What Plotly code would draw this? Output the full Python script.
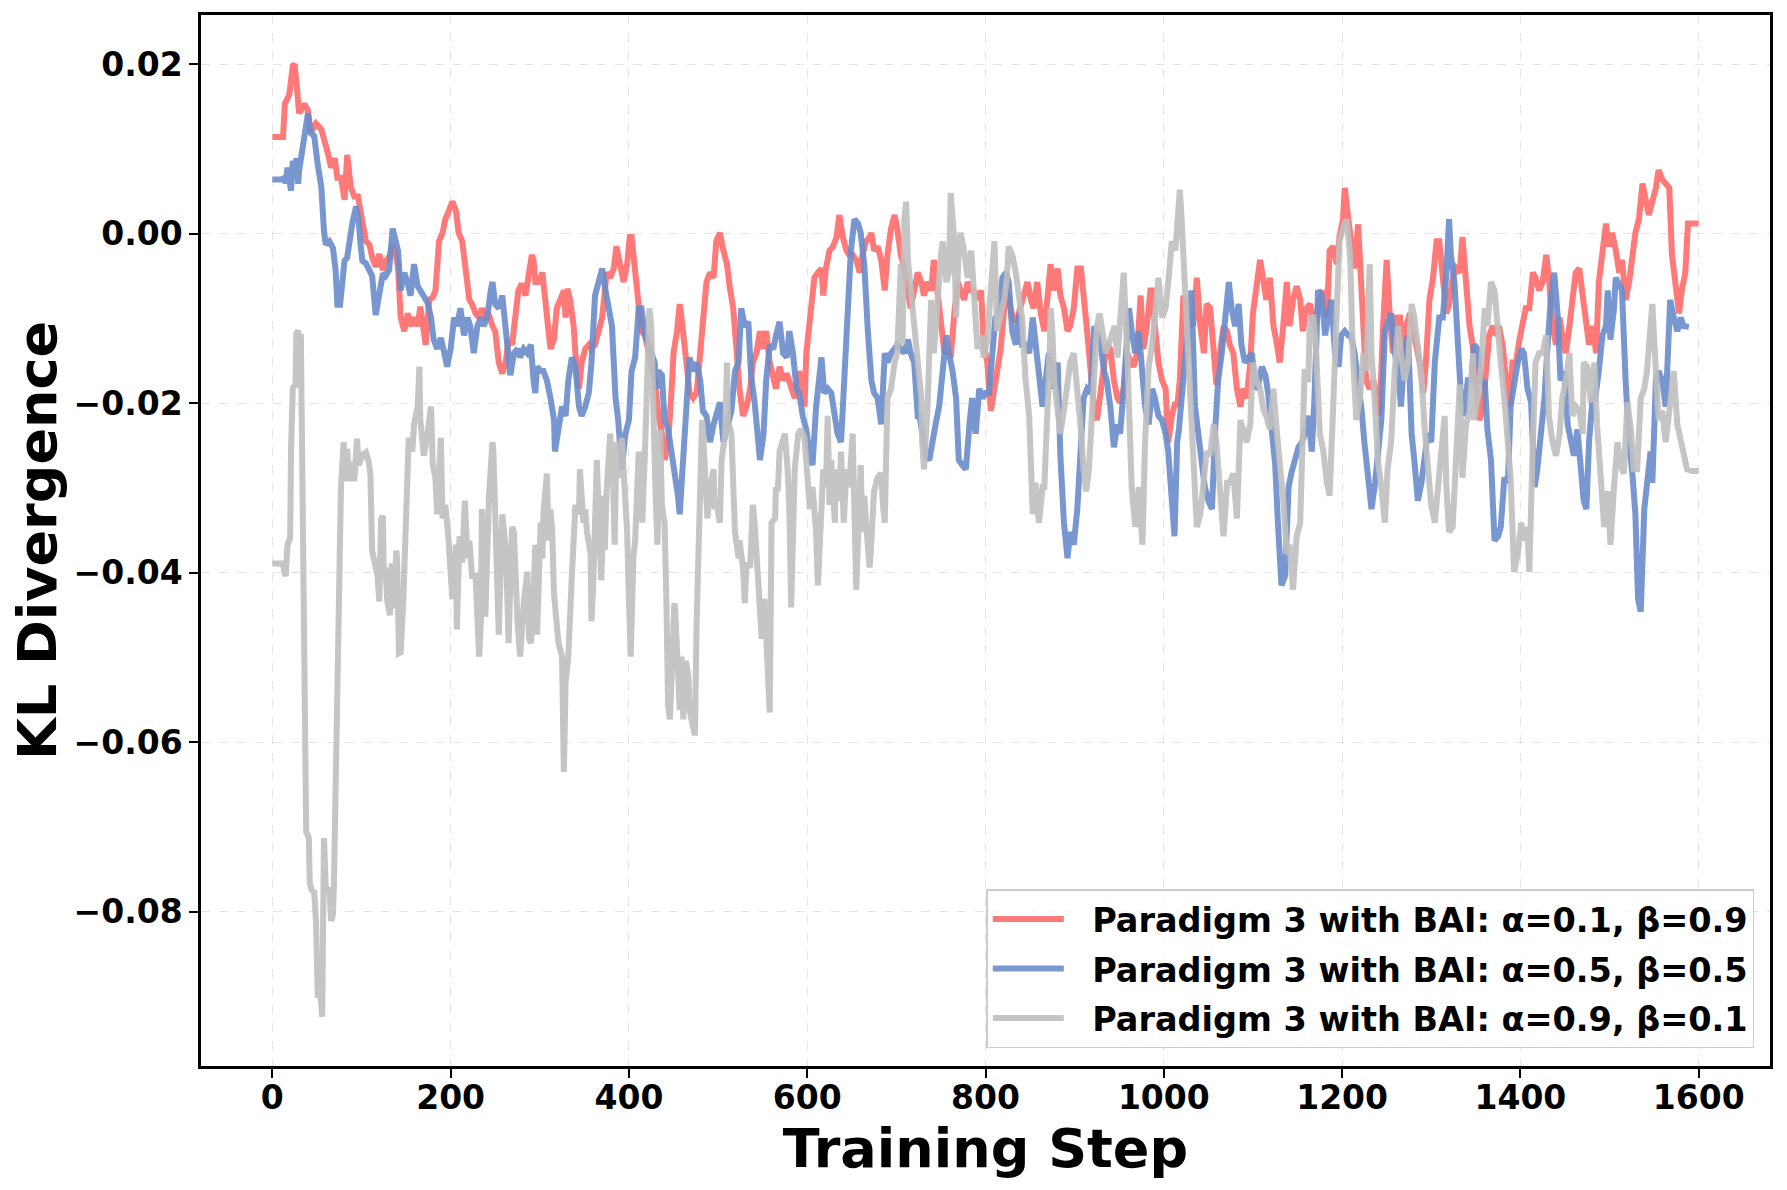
import plotly.graph_objects as go

# ---- data (training step, KL divergence) ----
red_points = [
(0,0.0114),(12,0.0114),(14,0.0153),(19,0.0164),(23,0.0198),(25,0.0200),(28,0.0168),(30,0.0142),(36,0.0153),(40,0.0145),
(43,0.0119),(49,0.0130),(55,0.0123),(58,0.0108),(62,0.0096),(66,0.0078),(70,0.0089),(73,0.0066),(77,0.0066),(81,0.0040),
(84,0.0093),(88,0.0055),(92,0.0044),(96,0.0044),(101,0.0010),(105,-0.0009),(109,-0.0013),(112,-0.0028),(116,-0.0039),(120,-0.0024),
(124,-0.0043),(127,-0.0032),(131,-0.0028),(135,-0.0013),(139,-0.0028),(141,-0.0040),(144,-0.0099),(148,-0.0115),(152,-0.0094),(155,-0.0109),
(159,-0.0099),(163,-0.0109),(166,-0.0086),(170,-0.0120),(172,-0.0131),(176,-0.0078),(180,-0.0075),(183,-0.0067),(187,-0.0009),(191,0.0001),
(194,0.0017),(198,0.0027),(202,0.0038),(206,0.0027),(209,0.0001),(213,-0.0009),(217,-0.0046),(221,-0.0078),(224,-0.0083),(228,-0.0094),
(232,-0.0099),(235,-0.0088),(239,-0.0099),(243,-0.0096),(247,-0.0109),(250,-0.0115),(254,-0.0152),(258,-0.0165),(262,-0.0150),(265,-0.0125),
(269,-0.0131),(273,-0.0083),(276,-0.0067),(280,-0.0059),(284,-0.0073),(288,-0.0046),(291,-0.0025),(293,-0.0031),(295,-0.0057),(299,-0.0057),
(303,-0.0046),(305,-0.0067),(308,-0.0099),(312,-0.0136),(316,-0.0125),(319,-0.0088),(323,-0.0078),(327,-0.0067),(329,-0.0099),(331,-0.0065),
(334,-0.0078),(338,-0.0109),(340,-0.0141),(344,-0.0183),(347,-0.0152),(351,-0.0136),(355,-0.0131),(358,-0.0136),(362,-0.0131),(366,-0.0115),
(370,-0.0099),(373,-0.0067),(375,-0.0046),(379,-0.0052),(383,-0.0041),(386,-0.0015),(390,-0.0036),(394,-0.0057),(398,-0.0036),(401,-0.0004),
(403,-0.0004),(407,-0.0046),(411,-0.0088),(414,-0.0115),(418,-0.0120),(422,-0.0141),(426,-0.0157),(429,-0.0173),(433,-0.0212),(437,-0.0236),
(440,-0.0267),(444,-0.0246),(448,-0.0183),(450,-0.0141),(454,-0.0115),(457,-0.0083),(459,-0.0099),(463,-0.0131),(465,-0.0157),(468,-0.0188),
(472,-0.0194),(476,-0.0188),(480,-0.0141),(483,-0.0088),(487,-0.0057),(491,-0.0046),(495,-0.0052),(498,-0.0009),(502,0.0001),(506,-0.0020),
(510,-0.0036),(513,-0.0062),(517,-0.0088),(521,-0.0141),(524,-0.0183),(528,-0.0215),(532,-0.0204),(536,-0.0183),(539,-0.0152),(543,-0.0141),
(547,-0.0115),(550,-0.0136),(554,-0.0115),(558,-0.0152),(562,-0.0173),(565,-0.0183),(569,-0.0157),(573,-0.0173),(577,-0.0165),(582,-0.0183),
(586,-0.0194),(590,-0.0173),(591,-0.0162),(595,-0.0188),(597,-0.0204),(599,-0.0141),(603,-0.0099),(606,-0.0078),(608,-0.0052),(612,-0.0046),
(616,-0.0041),(618,-0.0073),(621,-0.0041),(625,-0.0020),(629,-0.0015),(633,-0.0004),(636,0.0022),(640,-0.0004),(644,-0.0020),(647,-0.0025),
(651,-0.0025),(655,-0.0031),(659,-0.0046),(662,-0.0025),(666,-0.0009),(670,-0.0004),(672,0.0001),(675,-0.0020),(679,-0.0015),(683,-0.0031),
(687,-0.0067),(690,-0.0025),(694,0.0006),(698,0.0022),(701,0.0006),(705,-0.0025),(709,-0.0041),(713,-0.0067),(716,-0.0088),(720,-0.0067),
(724,-0.0046),(728,-0.0057),(731,-0.0073),(735,-0.0057),(739,-0.0067),(742,-0.0031),(746,-0.0073),(750,-0.0109),(754,-0.0141),(757,-0.0136),
(761,-0.0146),(765,-0.0094),(769,-0.0057),(772,-0.0067),(776,-0.0078),(780,-0.0057),(784,-0.0067),(787,-0.0067),(791,-0.0078),(795,-0.0067),
(798,-0.0131),(802,-0.0152),(806,-0.0209),(810,-0.0183),(813,-0.0162),(817,-0.0136),(821,-0.0088),(824,-0.0067),(828,-0.0088),(832,-0.0104),
(836,-0.0099),(839,-0.0088),(843,-0.0067),(847,-0.0057),(851,-0.0078),(854,-0.0088),(858,-0.0057),(862,-0.0094),(866,-0.0115),(869,-0.0078),
(873,-0.0036),(877,-0.0067),(881,-0.0041),(884,-0.0073),(888,-0.0088),(892,-0.0115),(895,-0.0109),(899,-0.0088),(903,-0.0041),(907,-0.0041),
(910,-0.0067),(914,-0.0115),(918,-0.0162),(922,-0.0209),(925,-0.0220),(929,-0.0183),(933,-0.0152),(936,-0.0131),(940,-0.0136),(944,-0.0173),
(948,-0.0194),(951,-0.0199),(955,-0.0183),(959,-0.0141),(963,-0.0152),(966,-0.0157),(970,-0.0141),(974,-0.0073),(977,-0.0136),(981,-0.0109),
(985,-0.0067),(987,-0.0067),(990,-0.0109),(994,-0.0152),(998,-0.0173),(1002,-0.0183),(1005,-0.0246),(1009,-0.0215),(1013,-0.0199),(1015,-0.0204),
(1018,-0.0173),(1022,-0.0073),(1026,-0.0099),(1030,-0.0104),(1033,-0.0109),(1037,-0.0052),(1041,-0.0109),(1045,-0.0141),(1048,-0.0083),(1052,-0.0088),
(1056,-0.0141),(1059,-0.0178),(1063,-0.0141),(1067,-0.0109),(1071,-0.0115),(1074,-0.0131),(1078,-0.0141),(1082,-0.0183),(1086,-0.0204),(1089,-0.0183),
(1093,-0.0194),(1097,-0.0152),(1100,-0.0094),(1104,-0.0057),(1108,-0.0031),(1112,-0.0057),(1115,-0.0078),(1119,-0.0052),(1123,-0.0109),(1127,-0.0131),
(1130,-0.0152),(1134,-0.0109),(1138,-0.0057),(1141,-0.0109),(1145,-0.0078),(1149,-0.0062),(1153,-0.0078),(1156,-0.0115),(1160,-0.0088),(1164,-0.0083),
(1168,-0.0109),(1171,-0.0099),(1175,-0.0078),(1179,-0.0067),(1183,-0.0099),(1186,-0.0020),(1190,-0.0015),(1194,-0.0036),(1197,-0.0004),(1201,0.0017),
(1203,0.0054),(1207,0.0017),(1210,-0.0004),(1214,-0.0041),(1218,0.0011),(1222,-0.0067),(1224,-0.0115),(1227,-0.0173),(1231,-0.0183),(1235,-0.0173),
(1238,-0.0188),(1242,-0.0215),(1246,-0.0109),(1250,-0.0031),(1253,-0.0088),(1257,-0.0141),(1261,-0.0099),(1265,-0.0099),(1268,-0.0152),(1272,-0.0109),
(1276,-0.0094),(1279,-0.0109),(1283,-0.0131),(1287,-0.0152),(1291,-0.0188),(1294,-0.0152),(1298,-0.0078),(1302,-0.0052),(1306,-0.0009),(1309,-0.0009),
(1313,-0.0052),(1317,-0.0094),(1320,-0.0083),(1324,-0.0052),(1328,-0.0041),(1332,-0.0046),(1335,-0.0004),(1339,-0.0057),(1343,-0.0109),(1347,-0.0136),
(1350,-0.0167),(1354,-0.0220),(1358,-0.0204),(1362,-0.0162),(1365,-0.0120),(1369,-0.0109),(1373,-0.0120),(1376,-0.0109),(1380,-0.0131),(1384,-0.0173),
(1388,-0.0204),(1391,-0.0152),(1395,-0.0152),(1399,-0.0125),(1403,-0.0099),(1406,-0.0088),(1410,-0.0088),(1414,-0.0046),(1417,-0.0052),(1421,-0.0067),
(1425,-0.0057),(1429,-0.0025),(1432,-0.0052),(1436,-0.0109),(1440,-0.0131),(1444,-0.0099),(1447,-0.0120),(1451,-0.0141),(1455,-0.0109),(1458,-0.0078),
(1462,-0.0046),(1466,-0.0041),(1470,-0.0073),(1473,-0.0099),(1477,-0.0131),(1481,-0.0109),(1485,-0.0141),(1488,-0.0057),(1492,-0.0015),(1496,0.0012),
(1499,-0.0015),(1503,0.0001),(1507,-0.0020),(1511,-0.0046),(1514,-0.0031),(1518,-0.0078),(1522,-0.0057),(1526,-0.0020),(1529,0.0001),(1533,0.0017),
(1537,0.0059),(1540,0.0043),(1544,0.0022),(1548,0.0038),(1552,0.0054),(1555,0.0075),(1559,0.0064),(1563,0.0059),(1567,0.0054),(1570,-0.0025),
(1574,-0.0067),(1578,-0.0094),(1581,-0.0067),(1585,-0.0046),(1588,0.0012),(1600,0.0012),
]

blue_points = [
(0,0.0064),(10,0.0064),(14,0.0066),(15,0.0059),(17,0.0078),(21,0.0051),(23,0.0086),(25,0.0070),(27,0.0089),(29,0.0059),
(30,0.0074),(34,0.0100),(38,0.0130),(40,0.0142),(43,0.0119),(47,0.0115),(51,0.0081),(55,0.0055),(58,0.0002),(60,-0.0013),
(64,-0.0009),(68,-0.0017),(71,-0.0043),(73,-0.0084),(76,-0.0084),(79,-0.0058),(81,-0.0032),(84,-0.0028),(86,-0.0013),(90,0.0014),
(94,0.0032),(97,0.0014),(99,-0.0013),(101,-0.0032),(105,-0.0035),(109,-0.0043),(112,-0.0050),(116,-0.0096),(120,-0.0070),(124,-0.0047),
(127,-0.0050),(131,-0.0043),(135,0.0006),(139,-0.0013),(141,-0.0020),(144,-0.0067),(148,-0.0046),(152,-0.0059),(155,-0.0073),(159,-0.0036),
(163,-0.0062),(166,-0.0067),(170,-0.0073),(174,-0.0081),(178,-0.0099),(181,-0.0125),(185,-0.0136),(189,-0.0123),(193,-0.0141),(196,-0.0157),
(200,-0.0136),(204,-0.0099),(207,-0.0109),(211,-0.0088),(215,-0.0120),(219,-0.0099),(222,-0.0109),(226,-0.0141),(230,-0.0109),(234,-0.0099),
(237,-0.0109),(241,-0.0099),(245,-0.0067),(247,-0.0057),(250,-0.0083),(254,-0.0088),(258,-0.0073),(262,-0.0115),(265,-0.0141),(267,-0.0167),
(271,-0.0141),(275,-0.0136),(278,-0.0146),(282,-0.0136),(286,-0.0141),(290,-0.0131),(293,-0.0173),(295,-0.0188),(297,-0.0157),(301,-0.0162),
(304,-0.0162),(308,-0.0173),(312,-0.0194),(316,-0.0220),(317,-0.0257),(321,-0.0231),(325,-0.0204),(329,-0.0215),(332,-0.0173),(336,-0.0146),
(340,-0.0157),(344,-0.0204),(347,-0.0215),(351,-0.0204),(355,-0.0188),(358,-0.0152),(362,-0.0073),(366,-0.0057),(370,-0.0041),(373,-0.0062),
(377,-0.0088),(381,-0.0109),(385,-0.0194),(388,-0.0220),(392,-0.0278),(396,-0.0236),(400,-0.0220),(403,-0.0162),(407,-0.0146),(411,-0.0088),
(414,-0.0088),(418,-0.0120),(422,-0.0131),(426,-0.0141),(429,-0.0152),(431,-0.0183),(433,-0.0162),(437,-0.0167),(440,-0.0220),(444,-0.0231),
(448,-0.0257),(452,-0.0283),(455,-0.0309),(457,-0.0331),(461,-0.0267),(465,-0.0209),(468,-0.0146),(472,-0.0162),(476,-0.0152),(480,-0.0173),
(483,-0.0209),(487,-0.0215),(491,-0.0246),(495,-0.0225),(498,-0.0215),(502,-0.0199),(506,-0.0246),(510,-0.0231),(515,-0.0209),(519,-0.0162),
(523,-0.0152),(526,-0.0088),(530,-0.0109),(534,-0.0104),(537,-0.0167),(541,-0.0199),(545,-0.0246),(547,-0.0267),(551,-0.0236),(554,-0.0173),
(558,-0.0131),(562,-0.0136),(565,-0.0120),(569,-0.0104),(573,-0.0141),(577,-0.0146),(580,-0.0115),(584,-0.0141),(588,-0.0183),(591,-0.0188),
(595,-0.0215),(599,-0.0231),(603,-0.0262),(606,-0.0273),(610,-0.0204),(614,-0.0173),(616,-0.0146),(619,-0.0188),(623,-0.0183),(627,-0.0188),
(631,-0.0220),(634,-0.0236),(638,-0.0246),(642,-0.0167),(646,-0.0088),(649,-0.0020),(653,0.0017),(657,0.0012),(660,0.0001),(664,-0.0036),
(668,-0.0115),(672,-0.0173),(675,-0.0188),(679,-0.0194),(683,-0.0225),(687,-0.0141),(690,-0.0152),(694,-0.0141),(698,-0.0136),(701,-0.0131),
(705,-0.0136),(709,-0.0141),(713,-0.0125),(716,-0.0141),(720,-0.0152),(724,-0.0215),(726,-0.0215),(729,-0.0241),(733,-0.0262),(737,-0.0267),
(741,-0.0236),(744,-0.0225),(748,-0.0204),(752,-0.0152),(756,-0.0120),(759,-0.0141),(763,-0.0162),(767,-0.0194),(770,-0.0267),(774,-0.0273),
(778,-0.0278),(782,-0.0225),(785,-0.0194),(789,-0.0236),(793,-0.0183),(797,-0.0194),(800,-0.0188),(804,-0.0188),(808,-0.0141),(811,-0.0099),
(815,-0.0094),(819,-0.0052),(823,-0.0046),(826,-0.0057),(830,-0.0115),(834,-0.0131),(838,-0.0094),(841,-0.0131),(845,-0.0131),(849,-0.0141),
(853,-0.0099),(856,-0.0131),(860,-0.0173),(864,-0.0204),(867,-0.0178),(871,-0.0141),(873,-0.0152),(877,-0.0183),(881,-0.0152),(884,-0.0262),
(888,-0.0341),(892,-0.0383),(895,-0.0352),(899,-0.0367),(903,-0.0325),(907,-0.0246),(910,-0.0194),(914,-0.0183),(918,-0.0188),(922,-0.0109),
(925,-0.0120),(929,-0.0131),(933,-0.0162),(936,-0.0173),(940,-0.0204),(944,-0.0252),(948,-0.0225),(951,-0.0236),(955,-0.0183),(959,-0.0131),
(961,-0.0088),(964,-0.0115),(968,-0.0141),(972,-0.0115),(976,-0.0173),(979,-0.0204),(983,-0.0225),(987,-0.0183),(990,-0.0194),(994,-0.0215),
(998,-0.0220),(1002,-0.0236),(1005,-0.0257),(1009,-0.0304),(1012,-0.0357),(1015,-0.0246),(1017,-0.0231),(1020,-0.0194),(1024,-0.0141),(1028,-0.0099),
(1031,-0.0067),(1035,-0.0204),(1039,-0.0236),(1043,-0.0273),(1046,-0.0299),(1050,-0.0315),(1054,-0.0325),(1058,-0.0225),(1061,-0.0173),(1065,-0.0141),
(1069,-0.0099),(1073,-0.0057),(1076,-0.0088),(1080,-0.0109),(1084,-0.0083),(1087,-0.0131),(1091,-0.0152),(1095,-0.0146),(1099,-0.0141),(1102,-0.0183),
(1106,-0.0178),(1110,-0.0157),(1114,-0.0167),(1117,-0.0188),(1121,-0.0225),(1125,-0.0273),(1128,-0.0341),(1132,-0.0415),(1136,-0.0404),(1140,-0.0299),
(1143,-0.0283),(1147,-0.0267),(1151,-0.0252),(1155,-0.0246),(1158,-0.0236),(1162,-0.0215),(1166,-0.0257),(1169,-0.0194),(1173,-0.0067),(1177,-0.0073),
(1181,-0.0120),(1184,-0.0099),(1188,-0.0078),(1192,-0.0141),(1196,-0.0157),(1199,-0.0120),(1203,-0.0115),(1207,-0.0120),(1210,-0.0120),(1214,-0.0141),
(1218,-0.0173),(1222,-0.0209),(1225,-0.0246),(1229,-0.0288),(1233,-0.0325),(1237,-0.0294),(1240,-0.0257),(1244,-0.0220),(1248,-0.0115),(1251,-0.0104),
(1255,-0.0094),(1259,-0.0141),(1263,-0.0162),(1266,-0.0204),(1270,-0.0141),(1274,-0.0120),(1278,-0.0236),(1281,-0.0267),(1285,-0.0315),(1289,-0.0294),
(1293,-0.0257),(1296,-0.0236),(1300,-0.0246),(1304,-0.0152),(1309,-0.0099),(1313,-0.0099),(1317,-0.0046),(1320,0.0017),(1322,-0.0025),(1326,-0.0057),
(1330,-0.0131),(1334,-0.0204),(1337,-0.0215),(1341,-0.0173),(1345,-0.0173),(1348,-0.0131),(1352,-0.0136),(1356,-0.0178),(1360,-0.0173),(1363,-0.0231),
(1367,-0.0267),(1371,-0.0362),(1375,-0.0357),(1378,-0.0346),(1382,-0.0288),(1386,-0.0294),(1389,-0.0204),(1393,-0.0173),(1397,-0.0152),(1401,-0.0136),
(1404,-0.0141),(1408,-0.0183),(1412,-0.0199),(1416,-0.0299),(1419,-0.0278),(1423,-0.0236),(1427,-0.0194),(1430,-0.0141),(1434,-0.0078),(1438,-0.0046),
(1442,-0.0099),(1445,-0.0173),(1449,-0.0162),(1451,-0.0183),(1453,-0.0225),(1457,-0.0246),(1460,-0.0262),(1464,-0.0231),(1468,-0.0273),(1471,-0.0315),
(1474,-0.0325),(1477,-0.0246),(1481,-0.0194),(1484,-0.0194),(1488,-0.0162),(1492,-0.0120),(1496,-0.0109),(1498,-0.0067),(1501,-0.0125),(1505,-0.0088),
(1507,-0.0052),(1511,-0.0062),(1514,-0.0067),(1518,-0.0173),(1522,-0.0246),(1526,-0.0288),(1529,-0.0331),(1532,-0.0431),(1535,-0.0446),(1539,-0.0325),
(1542,-0.0299),(1546,-0.0257),(1548,-0.0294),(1552,-0.0173),(1555,-0.0162),(1559,-0.0173),(1563,-0.0204),(1567,-0.0088),(1568,-0.0078),(1572,-0.0099),
(1576,-0.0115),(1580,-0.0099),(1583,-0.0109),(1589,-0.0110),
]

gray_points = [
(0,-0.0389),(12,-0.0389),(14,-0.0401),(15,-0.0404),(17,-0.0367),(20,-0.0359),(21,-0.0254),(23,-0.0182),(26,-0.0178),(27,-0.0118),
(29,-0.0114),(30,-0.0182),(32,-0.0118),(33,-0.0216),(35,-0.0314),(37,-0.0525),(38,-0.0706),(41,-0.0713),(42,-0.0766),(44,-0.0774),
(47,-0.0777),(49,-0.0811),(51,-0.0901),(54,-0.0898),(56,-0.0924),(57,-0.0811),(58,-0.0713),(60,-0.0774),(64,-0.0774),(66,-0.0811),
(68,-0.0803),(69,-0.0774),(71,-0.0638),(74,-0.0450),(77,-0.0299),(80,-0.0246),(82,-0.0292),(84,-0.0254),(86,-0.0292),(89,-0.0269),
(92,-0.0292),(95,-0.0242),(97,-0.0273),(101,-0.0261),(105,-0.0258),(108,-0.0269),(110,-0.0284),(112,-0.0374),(114,-0.0382),(118,-0.0404),
(120,-0.0434),(122,-0.0337),(124,-0.0333),(125,-0.0397),(127,-0.0397),(129,-0.0434),(132,-0.0450),(134,-0.0389),(137,-0.0442),(139,-0.0374),
(140,-0.0383),(142,-0.0495),(144,-0.0494),(147,-0.0431),(150,-0.0309),(153,-0.0241),(157,-0.0257),(159,-0.0225),(163,-0.0204),(165,-0.0157),
(166,-0.0220),(170,-0.0262),(174,-0.0236),(176,-0.0209),(178,-0.0204),(180,-0.0273),(183,-0.0288),(185,-0.0331),(189,-0.0241),(191,-0.0336),
(194,-0.0320),(197,-0.0352),(200,-0.0394),(202,-0.0431),(206,-0.0367),(207,-0.0467),(210,-0.0357),(213,-0.0388),(216,-0.0315),(219,-0.0383),
(221,-0.0362),(224,-0.0404),(228,-0.0404),(232,-0.0499),(234,-0.0457),(235,-0.0325),(237,-0.0367),(239,-0.0452),(243,-0.0309),(247,-0.0246),
(248,-0.0257),(250,-0.0325),(252,-0.0404),(254,-0.0473),(258,-0.0331),(262,-0.0373),(263,-0.0404),(265,-0.0483),(269,-0.0346),(271,-0.0352),
(275,-0.0457),(278,-0.0499),(282,-0.0436),(286,-0.0399),(288,-0.0478),(290,-0.0483),(293,-0.0425),(295,-0.0367),(297,-0.0473),(299,-0.0362),
(301,-0.0341),(303,-0.0383),(304,-0.0331),(308,-0.0283),(310,-0.0362),(312,-0.0325),(314,-0.0352),(316,-0.0425),(319,-0.0462),(321,-0.0483),
(325,-0.0499),(327,-0.0635),(329,-0.0530),(332,-0.0499),(336,-0.0404),(340,-0.0320),(344,-0.0331),(345,-0.0278),(349,-0.0341),(351,-0.0325),
(353,-0.0352),(357,-0.0378),(358,-0.0457),(360,-0.0415),(364,-0.0267),(366,-0.0341),(369,-0.0409),(372,-0.0309),(373,-0.0373),(375,-0.0304),
(379,-0.0236),(382,-0.0283),(384,-0.0367),(386,-0.0246),(388,-0.0288),(392,-0.0241),(396,-0.0309),(398,-0.0352),(400,-0.0431),(402,-0.0499),
(405,-0.0383),(407,-0.0362),(411,-0.0257),(413,-0.0299),(415,-0.0341),(418,-0.0257),(420,-0.0194),(423,-0.0088),(425,-0.0109),(427,-0.0220),
(430,-0.0309),(432,-0.0367),(433,-0.0273),(435,-0.0231),(437,-0.0320),(440,-0.0341),(442,-0.0431),(444,-0.0557),(446,-0.0573),(448,-0.0499),
(451,-0.0436),(452,-0.0446),(455,-0.0504),(457,-0.0562),(459,-0.0499),(461,-0.0573),(464,-0.0504),(467,-0.0525),(468,-0.0562),(471,-0.0578),
(474,-0.0592),(476,-0.0457),(478,-0.0352),(482,-0.0220),(483,-0.0231),(485,-0.0283),(488,-0.0336),(491,-0.0299),(495,-0.0278),(496,-0.0325),
(498,-0.0315),(502,-0.0341),(504,-0.0267),(508,-0.0236),(510,-0.0152),(511,-0.0220),(515,-0.0236),(519,-0.0352),(523,-0.0383),(524,-0.0362),
(528,-0.0394),(530,-0.0436),(532,-0.0388),(536,-0.0394),(539,-0.0320),(541,-0.0341),(545,-0.0404),(549,-0.0478),(552,-0.0431),(556,-0.0541),
(558,-0.0565),(560,-0.0341),(564,-0.0336),(565,-0.0299),(567,-0.0304),(569,-0.0257),(573,-0.0246),(575,-0.0236),(578,-0.0278),(580,-0.0325),
(582,-0.0441),(584,-0.0378),(586,-0.0278),(590,-0.0236),(593,-0.0231),(597,-0.0241),(601,-0.0294),(603,-0.0325),(606,-0.0299),(610,-0.0352),
(612,-0.0415),(614,-0.0362),(616,-0.0299),(618,-0.0278),(621,-0.0299),(623,-0.0215),(625,-0.0320),(627,-0.0267),(631,-0.0341),(632,-0.0278),
(636,-0.0315),(638,-0.0257),(641,-0.0341),(644,-0.0278),(647,-0.0299),(651,-0.0236),(655,-0.0420),(657,-0.0341),(660,-0.0273),(662,-0.0352),
(664,-0.0309),(666,-0.0341),(670,-0.0394),(672,-0.0362),(675,-0.0304),(679,-0.0288),(683,-0.0283),(685,-0.0320),(687,-0.0341),(690,-0.0194),
(694,-0.0183),(698,-0.0152),(701,-0.0141),(705,-0.0036),(707,-0.0131),(709,0.0017),(711,0.0038),(713,-0.0031),(716,-0.0067),(720,-0.0109),
(724,-0.0152),(728,-0.0194),(729,-0.0246),(731,-0.0278),(735,-0.0204),(737,-0.0099),(739,-0.0078),(742,-0.0141),(746,-0.0073),(750,-0.0025),
(752,-0.0009),(756,-0.0057),(759,-0.0046),(761,0.0048),(765,-0.0009),(767,-0.0099),(770,-0.0020),(772,0.0001),(776,-0.0020),(780,-0.0052),
(784,-0.0020),(787,-0.0067),(791,-0.0136),(795,-0.0120),(798,-0.0146),(802,-0.0125),(806,-0.0073),(810,-0.0009),(813,-0.0115),(817,-0.0099),
(821,-0.0078),(824,-0.0052),(826,-0.0015),(830,-0.0025),(834,-0.0046),(838,-0.0078),(841,-0.0099),(845,-0.0173),(849,-0.0215),(853,-0.0331),
(856,-0.0294),(860,-0.0341),(864,-0.0299),(866,-0.0299),(869,-0.0236),(872,-0.0141),(873,-0.0088),(875,-0.0115),(877,-0.0173),(881,-0.0220),
(884,-0.0236),(888,-0.0209),(892,-0.0167),(895,-0.0152),(899,-0.0141),(903,-0.0183),(907,-0.0231),(910,-0.0278),(913,-0.0304),(916,-0.0278),
(918,-0.0236),(922,-0.0141),(925,-0.0109),(928,-0.0094),(931,-0.0115),(935,-0.0141),(938,-0.0131),(942,-0.0115),(945,-0.0109),(948,-0.0146),
(951,-0.0109),(955,-0.0046),(959,-0.0141),(962,-0.0225),(964,-0.0299),(968,-0.0346),(972,-0.0299),(976,-0.0367),(979,-0.0246),(983,-0.0157),
(987,-0.0131),(990,-0.0099),(994,-0.0052),(998,-0.0099),(1002,-0.0088),(1005,-0.0057),(1009,-0.0009),(1013,-0.0020),(1016,0.0043),(1018,0.0052),
(1020,0.0017),(1022,-0.0025),(1026,-0.0115),(1030,-0.0204),(1033,-0.0267),(1037,-0.0346),(1041,-0.0331),(1045,-0.0288),(1048,-0.0257),(1052,-0.0262),
(1056,-0.0225),(1059,-0.0246),(1063,-0.0299),(1067,-0.0357),(1071,-0.0294),(1074,-0.0294),(1078,-0.0283),(1082,-0.0336),(1086,-0.0220),(1089,-0.0231),
(1093,-0.0246),(1097,-0.0225),(1100,-0.0152),(1104,-0.0173),(1108,-0.0183),(1112,-0.0209),(1115,-0.0215),(1119,-0.0231),(1123,-0.0183),(1127,-0.0236),
(1130,-0.0267),(1134,-0.0315),(1138,-0.0378),(1141,-0.0367),(1145,-0.0420),(1149,-0.0357),(1153,-0.0341),(1156,-0.0220),(1158,-0.0160),(1162,-0.0175),
(1164,-0.0099),(1168,-0.0099),(1171,-0.0141),(1175,-0.0236),(1179,-0.0257),(1183,-0.0294),(1186,-0.0309),(1190,-0.0204),(1194,-0.0078),(1197,-0.0009),
(1201,0.0006),(1205,0.0017),(1209,-0.0025),(1212,-0.0141),(1216,-0.0220),(1220,-0.0194),(1224,-0.0141),(1227,-0.0162),(1231,-0.0036),(1233,-0.0141),
(1237,-0.0204),(1240,-0.0267),(1244,-0.0299),(1248,-0.0341),(1251,-0.0278),(1255,-0.0246),(1259,-0.0162),(1263,-0.0109),(1266,-0.0141),(1270,-0.0173),
(1274,-0.0152),(1278,-0.0083),(1281,-0.0099),(1285,-0.0131),(1289,-0.0167),(1293,-0.0236),(1296,-0.0278),(1300,-0.0320),(1304,-0.0341),(1307,-0.0309),
(1309,-0.0288),(1313,-0.0246),(1315,-0.0215),(1317,-0.0299),(1320,-0.0352),(1324,-0.0346),(1328,-0.0246),(1332,-0.0178),(1335,-0.0288),(1339,-0.0225),
(1343,-0.0209),(1347,-0.0141),(1348,-0.0220),(1352,-0.0194),(1356,-0.0157),(1360,-0.0088),(1363,-0.0109),(1367,-0.0057),(1371,-0.0067),(1375,-0.0131),
(1378,-0.0152),(1382,-0.0194),(1386,-0.0246),(1389,-0.0288),(1393,-0.0399),(1397,-0.0378),(1401,-0.0341),(1404,-0.0362),(1408,-0.0346),(1410,-0.0399),
(1414,-0.0246),(1417,-0.0152),(1421,-0.0141),(1425,-0.0141),(1429,-0.0120),(1432,-0.0215),(1436,-0.0246),(1440,-0.0262),(1444,-0.0236),(1447,-0.0194),
(1451,-0.0173),(1455,-0.0141),(1458,-0.0215),(1462,-0.0204),(1466,-0.0209),(1470,-0.0236),(1471,-0.0152),(1475,-0.0157),(1479,-0.0199),(1483,-0.0152),
(1486,-0.0225),(1490,-0.0299),(1494,-0.0346),(1498,-0.0304),(1501,-0.0367),(1505,-0.0299),(1509,-0.0246),(1512,-0.0273),(1516,-0.0283),(1520,-0.0199),
(1524,-0.0231),(1527,-0.0278),(1531,-0.0278),(1535,-0.0194),(1539,-0.0183),(1542,-0.0162),(1546,-0.0099),(1548,-0.0083),(1552,-0.0162),(1555,-0.0220),
(1559,-0.0209),(1563,-0.0246),(1567,-0.0209),(1570,-0.0173),(1572,-0.0162),(1576,-0.0225),(1580,-0.0246),(1583,-0.0257),(1587,-0.0278),(1593,-0.0280),
(1600,-0.0280),
]

series_names = [
    "Paradigm 3 with BAI: α=0.1, β=0.9",
    "Paradigm 3 with BAI: α=0.5, β=0.5",
    "Paradigm 3 with BAI: α=0.9, β=0.1",
]
x_tick_values = [0, 200, 400, 600, 800, 1000, 1200, 1400, 1600]
y_tick_values = [-0.08, -0.06, -0.04, -0.02, 0.00, 0.02]
y_tick_labels = ["\u22120.08", "\u22120.06", "\u22120.04", "\u22120.02", "0.00", "0.02"]

colors = ["#FF6B6B", "#6A8CCB", "#BFBFBF"]
FONT = "DejaVu Sans"
GAP = "\u00a0\u00a0"  # visual gap between legend line sample and label

fig = go.Figure()
for i, (pts, name, col) in enumerate(zip([red_points, blue_points, gray_points], series_names, colors)):
    fig.add_trace(go.Scatter(
        x=[p[0] for p in pts], y=[p[1] for p in pts], mode="lines", name=GAP + name,
        legendgroup="g%d" % i,
        line=dict(color=col, width=6), opacity=0.9,
    ))

axis_common = dict(
    showline=True, linecolor="black", linewidth=2.5, mirror=True,
    ticks="outside", ticklen=9, tickwidth=2, tickcolor="black",
    showgrid=True, gridcolor="rgba(0,0,0,0.10)", gridwidth=1.3, griddash="dash",
    zeroline=False,
    tickfont=dict(family=FONT, size=33, color="black", weight="bold"),
)

fig.update_layout(
    width=1787, height=1190,
    margin=dict(l=201, r=17, t=15, b=124),
    paper_bgcolor="white", plot_bgcolor="white",
    font=dict(family=FONT, color="black"),
    xaxis=dict(range=[-80, 1680], tickvals=x_tick_values, ticklabelstandoff=-8,
               title=dict(text="Training Step", font=dict(family=FONT, size=54, weight="bold"), standoff=0),
               **axis_common),
    yaxis=dict(range=[-0.0982, 0.0258], tickvals=y_tick_values, ticktext=y_tick_labels,
               title=dict(text="KL Divergence", font=dict(family=FONT, size=54, weight="bold"), standoff=0),
               **axis_common),
    legend=dict(x=0.99, y=0.017, xanchor="right", yanchor="bottom",
                bgcolor="rgba(255,255,255,0.8)", bordercolor="#cccccc", borderwidth=1.5,
                itemwidth=71, tracegroupgap=3, traceorder="grouped",
                font=dict(family=FONT, size=33.5, color="black", weight="bold")),
    showlegend=True,
)

fig.write_html("out.html")
